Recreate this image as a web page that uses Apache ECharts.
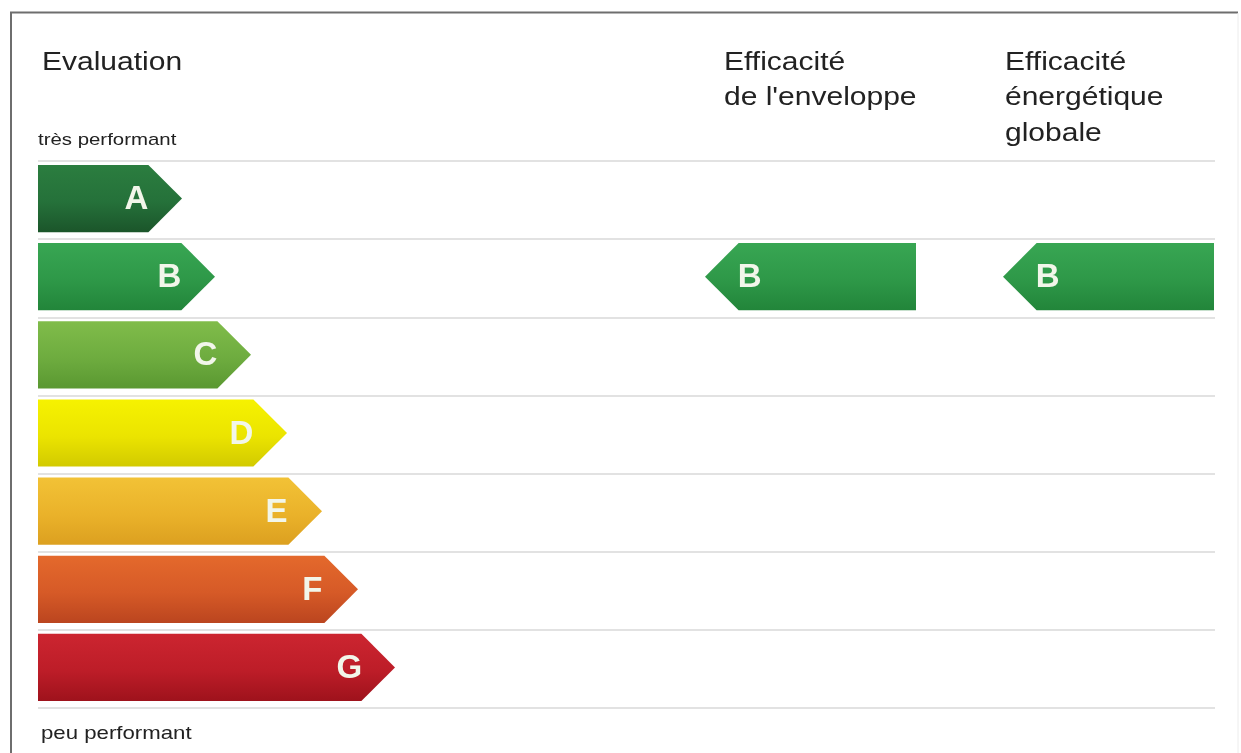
<!DOCTYPE html>
<html>
<head>
<meta charset="utf-8">
<script src="https://cdn.jsdelivr.net/npm/echarts@6/dist/echarts.min.js"></script>
<style>
html,body{margin:0;padding:0;background:#fff;}
#chart{width:1241px;height:753px;}
</style>
</head>
<body>
<div id="chart"></div>
<script>
// ---- data ----
var classes = ['A', 'B', 'C', 'D', 'E', 'F', 'G'];
var classLengths = [144, 177, 213, 249, 284, 320, 357];
var envelopeClass = 'B';
var globalClass = 'B';
var titleText = 'Evaluation';
var topLabel = 'très performant';
var bottomLabel = 'peu performant';
var envelopeTitle = ['Efficacité', "de l'enveloppe"];
var globalTitle = ['Efficacité', 'énergétique', 'globale'];

// ---- styles / layout ----
var classColors = [
  ['#2b7d3f', '#25713a', '#1b552a'],
  ['#38a653', '#2e9848', '#22853a'],
  ['#80bc4a', '#6eac3f', '#5a9831'],
  ['#f6f200', '#ebe400', '#d2ca00'],
  ['#f2c236', '#eab22a', '#dca020'],
  ['#e4692c', '#d65a27', '#bb451f'],
  ['#cc2530', '#bd1d28', '#9e121c']
];
var columnRanges = [[667, 878], [965, 1176]];
var FONT = "'Liberation Sans', Arial, sans-serif";
var LETTER_FONT = "bold 33px 'Liberation Sans', Arial, sans-serif";
var SX = 1.2;
var LINE_GAP = 35.5;

function grad(c) {
  return new echarts.graphic.LinearGradient(0, 0, 0, 1, [
    {offset: 0, color: c[0]}, {offset: 0.55, color: c[1]}, {offset: 1, color: c[2]}
  ]);
}

function label(text, x, y, size) {
  return {
    type: 'text', x: x, y: y, scaleX: SX,
    style: {text: text, font: size + 'px ' + FONT, fill: '#222', verticalAlign: 'middle'}
  };
}

var chart = echarts.init(document.getElementById('chart'), null, {renderer: 'canvas'});

var mainData = classLengths.map(function (v, i) { return [v, i]; });
var sideData = [
  [0, classes.indexOf(envelopeClass)],
  [1, classes.indexOf(globalClass)]
];

var graphics = [
  {type: 'line', shape: {x1: 11, y1: 12, x2: 11, y2: 753}, style: {stroke: '#6e6e6e', lineWidth: 2}},
  {type: 'line', shape: {x1: 10, y1: 12.5, x2: 1238, y2: 12.5}, style: {stroke: '#6e6e6e', lineWidth: 2}},
  {type: 'line', shape: {x1: 1238, y1: 13, x2: 1238, y2: 753}, style: {stroke: '#ececec', lineWidth: 1}},
  label(titleText, 42, 63, 25),
  label(topLabel, 38, 140.5, 17),
  label(bottomLabel, 41, 734, 18.5)
];
envelopeTitle.forEach(function (t, i) { graphics.push(label(t, 724, 63 + i * LINE_GAP, 25)); });
globalTitle.forEach(function (t, i) { graphics.push(label(t, 1005, 63 + i * LINE_GAP, 25)); });

var option = {
  animation: false,
  backgroundColor: '#fff',
  grid: {left: 38, right: 26, top: 161, bottom: 45},
  xAxis: {type: 'value', min: 0, max: 1177, show: false},
  yAxis: {
    type: 'category', data: classes, inverse: true,
    axisLine: {show: false}, axisTick: {show: false}, axisLabel: {show: false},
    splitLine: {show: true, lineStyle: {color: '#e2e2e2', width: 2}}
  },
  graphic: graphics,
  series: [
    {
      type: 'custom',
      data: mainData,
      renderItem: function (params, api) {
        var idx = api.value(1);
        var start = api.coord([0, idx]);
        var end = api.coord([api.value(0), idx]);
        var h = api.size([0, 1])[1] * 0.86;
        var cy = start[1] - 1.5;
        var half = h / 2;
        var body = end[0] - half;
        return {
          type: 'group',
          children: [
            {
              type: 'polygon',
              shape: {points: [[start[0], cy - half], [body, cy - half], [end[0], cy], [body, cy + half], [start[0], cy + half]]},
              style: {fill: grad(classColors[idx])}
            },
            {
              type: 'text',
              x: body - 12, y: cy + 1.5,
              style: {text: classes[idx], font: LETTER_FONT, fill: '#f2f6ea', align: 'center', verticalAlign: 'middle'}
            }
          ]
        };
      }
    },
    {
      type: 'custom',
      data: sideData,
      renderItem: function (params, api) {
        var col = api.value(0);
        var idx = api.value(1);
        var r = columnRanges[col];
        var p1 = api.coord([r[0], idx]);
        var p2 = api.coord([r[1], idx]);
        var h = api.size([0, 1])[1] * 0.86;
        var cy = p1[1] - 1.5;
        var half = h / 2;
        var body = p1[0] + half;
        return {
          type: 'group',
          children: [
            {
              type: 'polygon',
              shape: {points: [[p1[0], cy], [body, cy - half], [p2[0], cy - half], [p2[0], cy + half], [body, cy + half]]},
              style: {fill: grad(classColors[idx])}
            },
            {
              type: 'text',
              x: body + 11, y: cy + 1.5,
              style: {text: classes[idx], font: LETTER_FONT, fill: '#f2f6ea', align: 'center', verticalAlign: 'middle'}
            }
          ]
        };
      }
    }
  ]
};
chart.setOption(option);
</script>
</body>
</html>
